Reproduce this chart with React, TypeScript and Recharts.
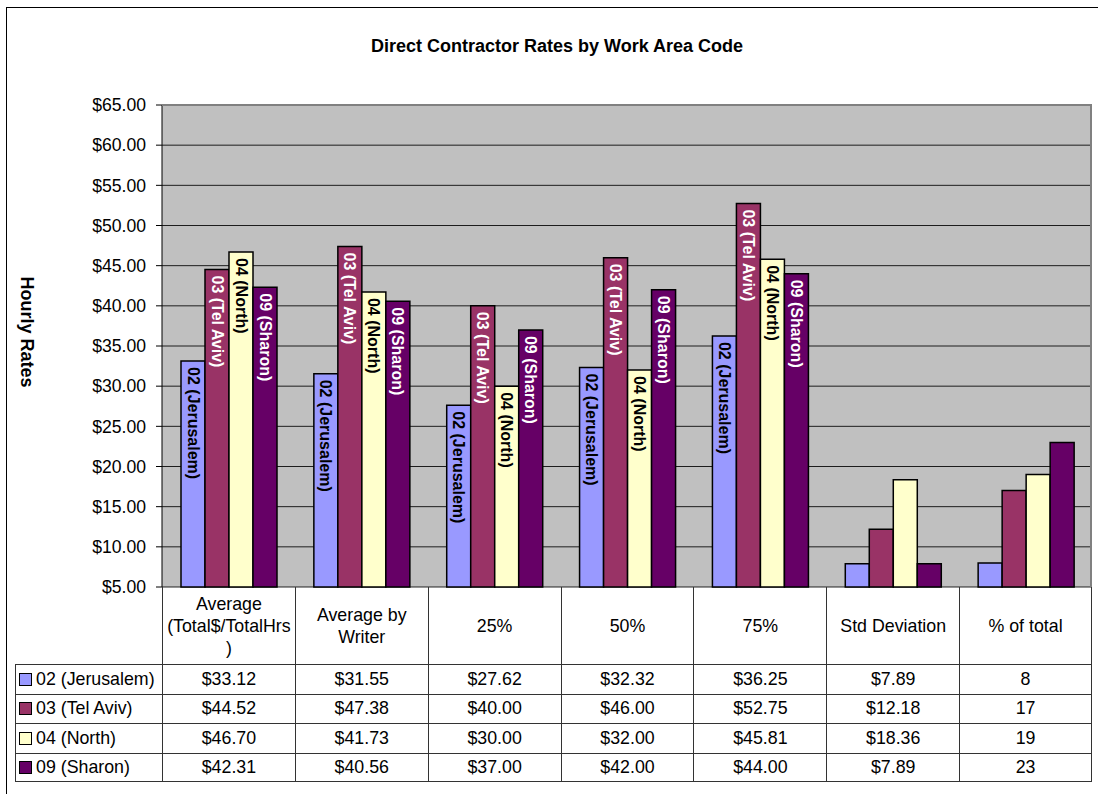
import { BarChart, Bar, XAxis, YAxis, CartesianGrid, LabelList, Label } from 'recharts';

const categories = ['Average (Total$/TotalHrs)', 'Average by Writer', '25%', '50%', '75%', 'Std Deviation', '% of total'];
const categoryHeaders = ['Average\n(Total$/TotalHrs\n)', 'Average by\nWriter', '25%', '50%', '75%', 'Std Deviation', '% of total'];
const labelledCategories = ['Average (Total$/TotalHrs)', 'Average by Writer', '25%', '50%', '75%'];

const jerusalem = [33.12, 31.55, 27.62, 32.32, 36.25, 7.89, 8];
const telAviv = [44.52, 47.38, 40.0, 46.0, 52.75, 12.18, 17];
const north = [46.7, 41.73, 30.0, 32.0, 45.81, 18.36, 19];
const sharon = [42.31, 40.56, 37.0, 42.0, 44.0, 7.89, 23];

const yTicks = [5, 10, 15, 20, 25, 30, 35, 40, 45, 50, 55, 60, 65];

const series = [
  { key: 'jerusalem', name: '02 (Jerusalem)', values: jerusalem, color: '#9999FF', text: '#000000' },
  { key: 'telAviv', name: '03 (Tel Aviv)', values: telAviv, color: '#993366', text: '#FFFFFF' },
  { key: 'north', name: '04 (North)', values: north, color: '#FFFFCC', text: '#000000' },
  { key: 'sharon', name: '09 (Sharon)', values: sharon, color: '#660066', text: '#FFFFFF' },
];

const data = categories.map((c, i) => {
  const row: any = { category: c };
  series.forEach((s) => (row[s.key] = s.values[i]));
  return row;
});

const W = 1098;
const H = 794;
const plotLeft = 162;
const plotRight = 1092;
const plotTop = 105;
const plotBottom = 587;
const headerBottom = 664;
const rowH = 29.5;
const legendLeft = 15;
const colW = (plotRight - plotLeft) / categories.length;
const font = '"Liberation Sans", Arial, sans-serif';
const lineColor = '#333';
const tableFont = 17.8;

const fmt = (v: number, i: number) => (i === categories.length - 1 ? String(v) : `$${v.toFixed(2)}`);

function makeBarLabel(name: string, color: string) {
  return (props: any) => {
    const { x, y, width, index } = props;
    if (!labelledCategories.includes(categories[index])) return null;
    return (
      <text
        transform={`translate(${x + width / 2}, ${y + 6}) rotate(90)`}
        textAnchor="start"
        dominantBaseline="central"
        fontFamily={font}
        fontWeight="bold"
        fontSize={16}
        fill={color}
      >
        {name}
      </text>
    );
  };
}

export default function App() {
  return (
    <div style={{ position: 'absolute', left: 0, top: 0, width: W, height: H, overflow: 'hidden', background: '#fff', fontFamily: font }}>
      <div style={{ position: 'absolute', left: 6, top: 7, width: W, height: H, border: '1px solid #000', borderRight: 'none', borderBottom: 'none' }} />
      <div style={{ position: 'absolute', left: 0, top: 36, width: 1114, textAlign: 'center', fontWeight: 'bold', fontSize: 18 }}>
        Direct Contractor Rates by Work Area Code
      </div>
      <div style={{ position: 'absolute', left: 0, top: 0 }}>
        <BarChart
          width={W}
          height={H}
          data={data}
          margin={{ top: plotTop, right: W - plotRight, bottom: H - plotBottom, left: 0 }}
          barCategoryGap={19}
          barGap={0}
        >
          <CartesianGrid vertical={false} fill="#C0C0C0" stroke="#000" strokeOpacity={0.85} />
          <XAxis dataKey="category" hide />
          <YAxis
            width={plotLeft}
            domain={[5, 65]}
            ticks={yTicks}
            interval={0}
            tickFormatter={(v) => `$${Number(v).toFixed(2)}`}
            tick={{ fontSize: 17.6, fill: '#000', fontFamily: font }}
            tickSize={6}
            tickMargin={10}
            stroke="#000"
            axisLine={{ stroke: '#000' }}
          >
            <Label
              content={(p: any) => {
                const vb = p.viewBox;
                return (
                  <text
                    transform={`translate(27, ${vb.y + vb.height / 2 - 14}) rotate(90)`}
                    textAnchor="middle"
                    dominantBaseline="central"
                    fontFamily={font}
                    fontWeight="bold"
                    fontSize={18}
                    fill="#000"
                  >
                    Hourly Rates
                  </text>
                );
              }}
            />
          </YAxis>
          {series.map((s) => (
            <Bar key={s.key} dataKey={s.key} name={s.name} fill={s.color} stroke="#000" strokeWidth={1.5} isAnimationActive={false}>
              <LabelList dataKey={s.key} content={makeBarLabel(s.name, s.text)} />
            </Bar>
          ))}
        </BarChart>
      </div>
      {/* plot border */}
      <div style={{ position: 'absolute', left: plotLeft, top: plotTop - 1, width: plotRight - plotLeft, height: plotBottom - plotTop + 1, borderTop: '2px solid #808080', borderRight: '2px solid #808080', boxSizing: 'border-box', pointerEvents: 'none' }} />
      {/* data table header */}
      {categoryHeaders.map((h, i) => (
        <div
          key={h}
          style={{
            position: 'absolute',
            left: plotLeft + i * colW,
            top: plotBottom,
            width: colW,
            height: headerBottom - plotBottom,
            borderLeft: `1px solid ${lineColor}`,
            borderRight: i === categories.length - 1 ? `1px solid ${lineColor}` : 'none',
            boxSizing: 'border-box',
            display: 'flex',
            alignItems: 'center',
            justifyContent: 'center',
            textAlign: 'center',
            whiteSpace: 'pre-line',
            fontSize: tableFont,
            lineHeight: '22px',
          }}
        >
          {h}
        </div>
      ))}
      {series.map((s, r) => (
        <div key={s.key}>
          <div
            style={{
              position: 'absolute',
              left: legendLeft,
              top: headerBottom + r * rowH,
              width: plotLeft - legendLeft,
              height: rowH,
              borderTop: `1px solid ${lineColor}`,
              borderLeft: `1px solid ${lineColor}`,
              borderBottom: r === series.length - 1 ? `1px solid ${lineColor}` : 'none',
              boxSizing: 'border-box',
              display: 'flex',
              alignItems: 'center',
              fontSize: tableFont,
              whiteSpace: 'nowrap',
            }}
          >
            <span style={{ display: 'inline-block', width: 11, height: 11, background: s.color, border: '1px solid #000', marginLeft: 3, marginRight: 4 }} />
            {s.name}
          </div>
          {s.values.map((v, i) => (
            <div
              key={i}
              style={{
                position: 'absolute',
                left: plotLeft + i * colW,
                top: headerBottom + r * rowH,
                width: colW,
                height: rowH,
                borderTop: `1px solid ${lineColor}`,
                borderLeft: `1px solid ${lineColor}`,
                borderRight: i === categories.length - 1 ? `1px solid ${lineColor}` : 'none',
                borderBottom: r === series.length - 1 ? `1px solid ${lineColor}` : 'none',
                boxSizing: 'border-box',
                display: 'flex',
                alignItems: 'center',
                justifyContent: 'center',
                fontSize: tableFont,
              }}
            >
              {fmt(v, i)}
            </div>
          ))}
        </div>
      ))}
    </div>
  );
}
